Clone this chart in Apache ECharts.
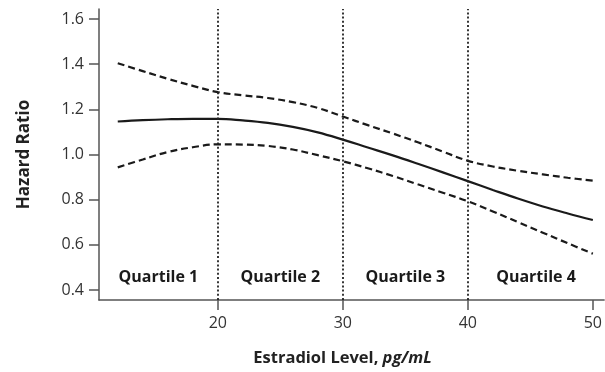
<!DOCTYPE html>
<html>
<head>
<meta charset="utf-8">
<script src="https://cdn.jsdelivr.net/npm/echarts@6/dist/echarts.min.js"></script>
<style>html,body{margin:0;padding:0;background:#fff}#c{width:605px;height:372px}</style>
</head>
<body>
<div id="c"></div>
<script>
var estradiol = [12, 14, 16, 18, 20, 22, 24, 26, 28, 30, 32, 34, 36, 38, 40, 42, 44, 46, 48, 50];
var hazardRatio = [1.146, 1.152, 1.156, 1.158, 1.158, 1.151, 1.140, 1.122, 1.098, 1.066, 1.031, 0.996, 0.959, 0.921, 0.882, 0.843, 0.805, 0.770, 0.739, 0.710];
var upperCI = [1.404, 1.369, 1.335, 1.304, 1.276, 1.262, 1.250, 1.232, 1.206, 1.168, 1.130, 1.093, 1.054, 1.013, 0.972, 0.947, 0.928, 0.912, 0.897, 0.884];
var lowerCI = [0.943, 0.978, 1.011, 1.032, 1.045, 1.044, 1.038, 1.022, 0.997, 0.970, 0.939, 0.905, 0.868, 0.831, 0.793, 0.748, 0.701, 0.654, 0.607, 0.561];
var quartileBounds = [20, 30, 40];
var quartileLabels = ['Quartile 1', 'Quartile 2', 'Quartile 3', 'Quartile 4'];
var xTicks = [20, 30, 40, 50];
var yTicks = [0.4, 0.6, 0.8, 1.0, 1.2, 1.4, 1.6];

var xMin = 10.5, xMax = 50.9, yMin = 0.356, yMax = 1.644;
var font = 'Open Sans';
function pairs(ys) { return estradiol.map(function (x, i) { return [x, ys[i]]; }); }

var edges = [xMin].concat(quartileBounds).concat([xMax]);
var areas = quartileLabels.map(function (name, i) {
  return [{ xAxis: edges[i], name: name }, { xAxis: edges[i + 1] }];
});

var chart = echarts.init(document.getElementById('c'));
chart.setOption({
  animation: false,
  grid: { left: 99, right: 0, top: 9, bottom: 68 },
  xAxis: {
    type: 'value', min: xMin, max: xMax,
    name: '{a|Estradiol Level, }{b|pg/mL}',
    nameLocation: 'middle', nameGap: 50,
    nameTextStyle: {
      padding: [0, 18, 0, 0],
      rich: {
        a: { fontFamily: font, fontSize: 16.5, fontWeight: 'bold', color: '#222' },
        b: { fontFamily: font, fontSize: 16.5, fontWeight: 'bold', fontStyle: 'italic', color: '#222' }
      }
    },
    splitLine: { show: false },
    axisLine: { lineStyle: { color: '#555', width: 1.5 } },
    axisTick: { customValues: xTicks, length: 10, lineStyle: { color: '#555', width: 1.5 } },
    axisLabel: { customValues: xTicks, margin: 15, fontFamily: font, fontSize: 16, color: '#333' }
  },
  yAxis: {
    type: 'value', min: yMin, max: yMax,
    name: 'Hazard Ratio', nameLocation: 'middle', nameGap: 66, nameRotate: 90,
    nameTextStyle: { fontFamily: font, fontSize: 17, fontWeight: 'bold', color: '#222' },
    splitLine: { show: false },
    axisLine: { show: true, lineStyle: { color: '#555', width: 1.5 } },
    axisTick: { show: true, customValues: yTicks, length: 10, lineStyle: { color: '#555', width: 1.5 } },
    axisLabel: { customValues: yTicks, margin: 15, fontFamily: font, fontSize: 16, color: '#333',
      formatter: function (v) { return v.toFixed(1); } }
  },
  series: [
    {
      type: 'line', data: pairs(hazardRatio), smooth: 0.4, symbol: 'none',
      lineStyle: { color: '#1a1a1a', width: 2.2 },
      markLine: {
        silent: true, symbol: 'none', label: { show: false },
        lineStyle: { color: '#222', type: [2, 2.2], width: 1.8 },
        data: quartileBounds.map(function (b) { return { xAxis: b }; })
      },
      markArea: {
        silent: true, itemStyle: { color: 'rgba(0,0,0,0)' },
        label: { show: true, position: 'insideBottom', distance: 15, fontFamily: font, fontSize: 16, fontWeight: 'bold', color: '#1a1a1a' },
        data: areas
      }
    },
    {
      type: 'line', data: pairs(upperCI), smooth: 0.4, symbol: 'none',
      lineStyle: { color: '#1a1a1a', width: 2.2, type: [7, 4] }
    },
    {
      type: 'line', data: pairs(lowerCI), smooth: 0.4, symbol: 'none',
      lineStyle: { color: '#1a1a1a', width: 2.2, type: [7, 4] }
    }
  ]
});
</script>
</body>
</html>
